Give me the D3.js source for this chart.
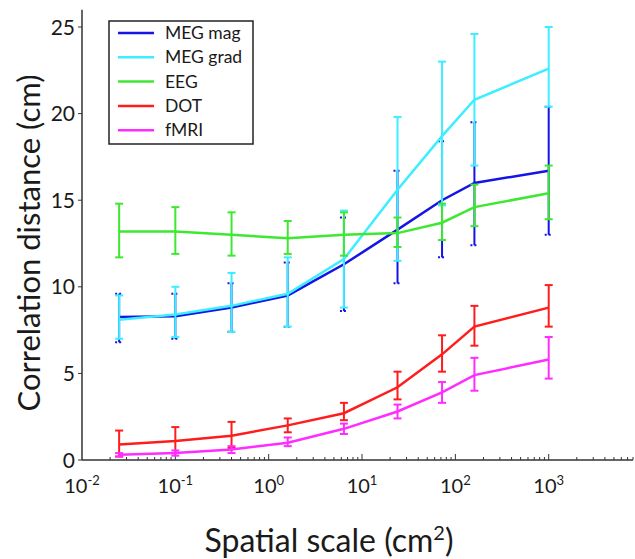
<!DOCTYPE html>
<html><head>
<meta charset="utf-8">
<script src="https://d3js.org/d3.v7.min.js"></script>
<style>
body { margin: 0; background: #fff; }
text { font-family: Lato, "Open Sans", sans-serif; fill: #1a1a1a; }
</style>
</head>
<body>
<svg id="chart" width="635" height="559"></svg>
<script>
// spatial scale (cm^2) of each point
const scales = [0.025, 0.1, 0.4, 1.6, 6.4, 24, 72, 160, 1000];

// correlation distance (cm): mean, lower and upper end of the error bar
const megMag   = [8.25, 8.3, 8.8, 9.5, 11.3, 13.3, 15.0, 16.0, 16.7];
const megMagLo = [6.8, 7.0, 7.4, 7.7, 8.6, 10.2, 11.7, 12.4, 13.0];
const megMagHi = [9.6, 9.6, 10.2, 11.4, 14.0, 16.7, 18.4, 19.5, 20.4];

const megGrad   = [8.1, 8.4, 8.9, 9.6, 11.6, 15.6, 18.7, 20.8, 22.6];
const megGradLo = [7.0, 7.1, 7.4, 7.7, 8.8, 11.5, 14.7, 17.0, 20.4];
const megGradHi = [9.5, 10.0, 10.8, 11.7, 14.4, 19.8, 23.0, 24.6, 25.0];

const eeg   = [13.2, 13.2, 13.0, 12.8, 13.0, 13.1, 13.7, 14.6, 15.4];
const eegLo = [11.7, 11.9, 11.8, 11.9, 11.8, 12.3, 12.7, 13.5, 13.9];
const eegHi = [14.8, 14.6, 14.3, 13.8, 14.3, 14.0, 14.8, 15.9, 17.0];

const dot   = [0.9, 1.1, 1.4, 2.0, 2.7, 4.2, 6.1, 7.7, 8.8];
const dotLo = [0.2, 0.4, 0.7, 1.6, 2.3, 3.5, 5.1, 6.6, 7.7];
const dotHi = [1.7, 1.9, 2.2, 2.4, 3.3, 5.1, 7.2, 8.9, 10.1];

const fmri   = [0.3, 0.4, 0.6, 1.0, 1.8, 2.8, 3.9, 4.9, 5.8];
const fmriLo = [0.2, 0.25, 0.4, 0.8, 1.5, 2.4, 3.3, 4.0, 4.7];
const fmriHi = [0.4, 0.55, 0.8, 1.3, 2.1, 3.2, 4.5, 5.9, 7.1];

const seriesNames = ["MEG mag", "MEG grad", "EEG", "DOT", "fMRI"];
const seriesColors = ["#1414e6", "#3ceeff", "#3ee830", "#ff1c1c", "#ff2cff"];

const xTickExps = [-2, -1, 0, 1, 2, 3];
const yTicks = [0, 5, 10, 15, 20, 25];

const series = [
    {name: seriesNames[0], color: seriesColors[0], mean: megMag, lo: megMagLo, hi: megMagHi, dash: "2,2"},
    {name: seriesNames[1], color: seriesColors[1], mean: megGrad, lo: megGradLo, hi: megGradHi},
    {name: seriesNames[2], color: seriesColors[2], mean: eeg, lo: eegLo, hi: eegHi},
    {name: seriesNames[3], color: seriesColors[3], mean: dot, lo: dotLo, hi: dotHi},
    {name: seriesNames[4], color: seriesColors[4], mean: fmri, lo: fmriLo, hi: fmriHi}
];

const svg = d3.select("#chart");

const x = d3.scaleLog().domain([1e-2, 8e3]).range([82, 633]);
const y = d3.scaleLinear().domain([0, 26]).range([460, 9.7]);
const axisColor = "#333";

// x axis: ticks point inward, minor ticks for 2..9
const xAxis = svg.append("g");
xAxis.append("line")
    .attr("x1", x.range()[0]).attr("x2", x.range()[1])
    .attr("y1", y(0)).attr("y2", y(0))
    .attr("stroke", axisColor).attr("stroke-width", 1.5);
const xTickVals = x.ticks();
xAxis.selectAll("line.tick").data(xTickVals.filter(d => d > x.domain()[0]))
    .join("line")
    .attr("class", "tick")
    .attr("x1", d => x(d)).attr("x2", d => x(d))
    .attr("y1", y(0))
    .attr("y2", d => Math.abs(Math.log10(d) - Math.round(Math.log10(d))) < 1e-9 ? y(0) - 6 : y(0) - 3)
    .attr("stroke", axisColor).attr("stroke-width", 1);
const xLabels = xAxis.selectAll("text.tl").data(xTickExps)
    .join("text")
    .attr("class", "tl")
    .attr("x", d => x(Math.pow(10, d)))
    .attr("y", 493)
    .attr("text-anchor", "middle")
    .attr("font-size", 20);
xLabels.append("tspan").text("10");
xLabels.append("tspan")
    .attr("dy", -8).attr("font-size", 13)
    .text(d => d < 0 ? "-" + (-d) : d);

// y axis: ticks point outward
const yAxis = svg.append("g");
yAxis.append("line")
    .attr("x1", x.range()[0]).attr("x2", x.range()[0])
    .attr("y1", y(0)).attr("y2", y.range()[1])
    .attr("stroke", axisColor).attr("stroke-width", 1.5);
yAxis.selectAll("line.tick").data(yTicks)
    .join("line")
    .attr("class", "tick")
    .attr("x1", x.range()[0] - 4).attr("x2", x.range()[0])
    .attr("y1", d => y(d)).attr("y2", d => y(d))
    .attr("stroke", axisColor);
yAxis.selectAll("text").data(yTicks)
    .join("text")
    .attr("x", 75)
    .attr("y", d => y(d) + 7.5)
    .attr("text-anchor", "end")
    .attr("font-size", 21)
    .text(d => d);

// axis titles
const xTitle = svg.append("text")
    .attr("x", 329).attr("y", 552)
    .attr("text-anchor", "middle")
    .attr("font-size", 32);
xTitle.append("tspan").text("Spatial scale (cm");
xTitle.append("tspan").attr("dy", -12).attr("font-size", 20).text("2");
xTitle.append("tspan").attr("dy", 12).text(")");

svg.append("text")
    .attr("transform", "translate(40,243) rotate(-90)")
    .attr("text-anchor", "middle")
    .attr("font-size", 31)
    .text("Correlation distance (cm)");

// series lines and error bars
const line = d3.line()
    .x(d => x(d.s))
    .y(d => y(d.v));
const capW = 4;

series.forEach(sr => {
    const pts = scales.map((s, i) => ({s: s, v: sr.mean[i], lo: sr.lo[i], hi: sr.hi[i]}));
    const g = svg.append("g");
    g.selectAll("line.bar").data(pts)
        .join("line")
        .attr("class", "bar")
        .attr("x1", d => x(d.s)).attr("x2", d => x(d.s))
        .attr("y1", d => y(d.lo)).attr("y2", d => y(d.hi))
        .attr("stroke", sr.color).attr("stroke-width", 2);
    ["lo", "hi"].forEach(k => {
        g.selectAll("line.cap" + k).data(pts)
            .join("line")
            .attr("class", "cap" + k)
            .attr("x1", d => x(d.s) - capW).attr("x2", d => x(d.s) + capW)
            .attr("y1", d => y(d[k])).attr("y2", d => y(d[k]))
            .attr("stroke", sr.color).attr("stroke-width", 2)
            .attr("stroke-dasharray", sr.dash || null);
    });
    g.append("path")
        .datum(pts)
        .attr("fill", "none")
        .attr("stroke", sr.color)
        .attr("stroke-width", 2.5)
        .attr("d", line);
});

// legend
const legend = svg.append("g");
legend.append("rect")
    .attr("x", 109).attr("y", 21)
    .attr("width", 144).attr("height", 123)
    .attr("fill", "#fff")
    .attr("stroke", "#222").attr("stroke-width", 1.5);
const rows = legend.selectAll("g.row").data(series)
    .join("g")
    .attr("class", "row")
    .attr("transform", (d, i) => "translate(0," + (33 + i * 24.3) + ")");
rows.append("line")
    .attr("x1", 118).attr("x2", 154)
    .attr("stroke", d => d.color).attr("stroke-width", 2.5);
rows.append("text")
    .attr("x", 165).attr("y", 6)
    .attr("font-size", 17.5)
    .text(d => d.name);
</script>
</body>
</html>
